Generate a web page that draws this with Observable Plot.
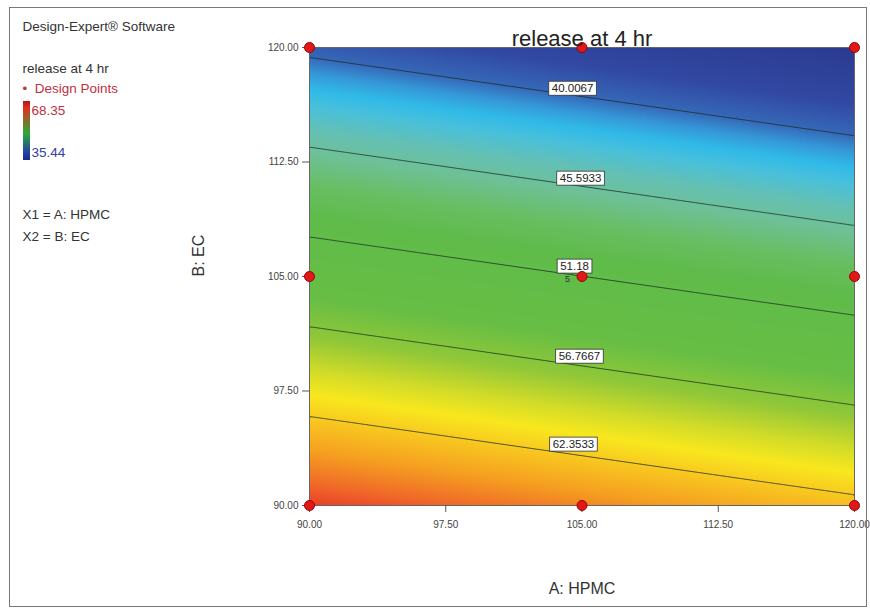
<!DOCTYPE html>
<html>
<head>
<meta charset="utf-8">
<script src="https://cdn.jsdelivr.net/npm/d3@7"></script>
<script src="https://cdn.jsdelivr.net/npm/@observablehq/plot@0.6"></script>
<style>
  html, body { margin: 0; padding: 0; background: #fff; }
  #wrap { position: relative; width: 870px; height: 610px; overflow: hidden; }
  #border { position: absolute; left: 9px; top: 7px; width: 858px; height: 600px; border: 1px solid #777; box-sizing: border-box; pointer-events: none; }
  #cbar { position: absolute; left: 23px; top: 101px; width: 7px; height: 59px; z-index: 2;
          background: linear-gradient(to bottom, #b01818 0%, #e03020 12%, #30a838 55%, #2040a8 88%, #1a2a80 100%); }
  svg text { font-family: "Liberation Sans Narrow", "Liberation Sans", Arial, sans-serif; }
</style>
</head>
<body>
<div id="wrap"><div id="cbar"></div><div id="border"></div></div>
<script>
// ---- data ----
const A_LEVELS = [90, 97.5, 105, 112.5, 120];   // A: HPMC grid
const B_LEVELS = [90, 97.5, 105, 112.5, 120];   // B: EC grid
// estimated response (release at 4 hr), rows = B level, cols = A level
const RELEASE = [
  [67.89, 66.67, 65.45, 64.23, 63.02],
  [60.77, 59.55, 58.33, 57.11, 55.89],
  [53.64, 52.42, 51.20, 49.98, 48.77],
  [46.52, 45.30, 44.08, 42.86, 41.64],
  [39.39, 38.17, 36.95, 35.73, 34.52]
];
const CONTOUR_LEVELS = [40.0067, 45.5933, 51.18, 56.7667, 62.3533];
const CONTOUR_LABEL_TEXT = ["40.0067", "45.5933", "51.18", "56.7667", "62.3533"];
const LABEL_A = [104.48, 104.92, 104.59, 104.86, 104.53];
const LABEL_B = [117.31, 111.42, 105.66, 99.76, 94.0];
const DP_A = [90, 105, 120, 90, 120, 90, 105, 120, 105];
const DP_B = [90, 90, 90, 105, 105, 120, 120, 120, 105];
const TICKS = [90, 97.5, 105, 112.5, 120];
const COLOR_STOPS = [34.5, 38, 40, 41, 42, 43, 44.5, 46, 48, 50, 55, 57.5, 59.5, 61, 62.5, 64.5, 66.5, 68.35];
const COLOR_RANGE = ["#2b3a90", "#3148a2", "#3668b8", "#3598d8", "#30bae8", "#48c0dc", "#64c0b4", "#6ec096",
                     "#68be62", "#5fbb4a", "#68be44", "#92c838", "#d2dc28", "#f8e81e", "#f8c820", "#f5a020", "#f06a28", "#e8302a"];
const LEFT_TEXT = [
  {t: "Design-Expert® Software", y: 26, c: "#333", dx: 0},
  {t: "release at 4 hr", y: 68, c: "#333", dx: 0},
  {t: "•  Design Points", y: 88, c: "#c03040", dx: 0},
  {t: "68.35", y: 110, c: "#c03040", dx: 9},
  {t: "35.44", y: 152, c: "#3040a0", dx: 9},
  {t: "X1 = A: HPMC", y: 214, c: "#333", dx: 0},
  {t: "X2 = B: EC", y: 236, c: "#333", dx: 0}
];

const grid = [];
B_LEVELS.forEach((b, i) => A_LEVELS.forEach((a, j) => grid.push({a, b, v: RELEASE[i][j]})));
const labels = CONTOUR_LABEL_TEXT.map((t, i) => ({t, a: LABEL_A[i], b: LABEL_B[i]}));
const points = DP_A.map((a, i) => ({a, b: DP_B[i]}));

const W = 870, H = 610, ML = 309, MR = 16, MT = 47, MB = 105;

const leftMarks = LEFT_TEXT.map(d => Plot.text([d.t], {
  frameAnchor: "top-left", dx: -ML + 22 + d.dx, dy: d.y - MT, text: v => v,
  fill: d.c, textAnchor: "start", lineAnchor: "middle", fontSize: 13.5
}));

const chart = Plot.plot({
  width: W, height: H,
  marginLeft: ML, marginRight: MR, marginTop: MT, marginBottom: MB,
  x: {domain: [90, 120], label: null},
  y: {domain: [90, 120], label: null},
  color: {type: "linear", domain: COLOR_STOPS, range: COLOR_RANGE, interpolate: "rgb"},
  style: {fontFamily: "'Liberation Sans Narrow','Liberation Sans',Arial,sans-serif", background: "transparent"},
  marks: [
    Plot.raster(grid, {x: "a", y: "b", fill: "v", interpolate: "barycentric", pixelSize: 1}),
    Plot.contour(grid, {x: "a", y: "b", value: "v", thresholds: CONTOUR_LEVELS, interpolate: "barycentric",
      stroke: "#1a2a20", strokeOpacity: 0.75, strokeWidth: 1, fill: "none"}),
    Plot.frame({stroke: "#666", strokeWidth: 1}),
    Plot.axisX({ticks: TICKS, tickFormat: d => d.toFixed(2), tickSize: 7, tickPadding: 8, fontSize: 10, stroke: "#555", fill: "#444"}),
    Plot.axisY({ticks: TICKS, tickFormat: d => d.toFixed(2), tickSize: 7, tickPadding: 4, fontSize: 10, stroke: "#555", fill: "#444"}),
    Plot.text(labels, {x: "a", y: "b", text: "t", fontSize: 11.5, fill: "#222", ariaDescription: "contour-labels"}),
    Plot.text(["5"], {x: [104.2], y: [104.8], text: d => d, fontSize: 9, fill: "#333"}),
    Plot.dot(points, {x: "a", y: "b", r: 5, fill: "#e01818", stroke: "#a00000", strokeWidth: 1}),
    Plot.text(["release at 4 hr"], {frameAnchor: "top", dy: -17, text: d => d, fontSize: 22, fill: "#222",
      fontFamily: "'Liberation Sans',Arial,sans-serif"}),
    Plot.text(["A: HPMC"], {frameAnchor: "bottom", dy: 88, text: d => d, fontSize: 16, fill: "#333",
      fontFamily: "'Liberation Sans',Arial,sans-serif"}),
    Plot.text(["B: EC"], {frameAnchor: "left", dx: -111, rotate: -90, text: d => d, fontSize: 16, fill: "#333",
      fontFamily: "'Liberation Sans',Arial,sans-serif"}),
    ...leftMarks
  ]
});

const wrap = document.getElementById("wrap");
chart.style.position = "absolute";
chart.style.left = "0px";
chart.style.top = "0px";
wrap.insertBefore(chart, wrap.firstChild);

// white boxes behind the contour labels
const lg = chart.querySelector('g[aria-description="contour-labels"]');
if (lg) {
  lg.querySelectorAll("text").forEach(t => {
    const bb = t.getBBox();
    const r = document.createElementNS("http://www.w3.org/2000/svg", "rect");
    r.setAttribute("x", bb.x - 3);
    r.setAttribute("y", bb.y - 1);
    r.setAttribute("width", bb.width + 6);
    r.setAttribute("height", bb.height + 2);
    r.setAttribute("fill", "#fff");
    r.setAttribute("stroke", "#333");
    r.setAttribute("stroke-width", "0.8");
    const tr = t.getAttribute("transform");
    if (tr) r.setAttribute("transform", tr);
    t.parentNode.insertBefore(r, t);
  });
}
</script>
</body>
</html>
